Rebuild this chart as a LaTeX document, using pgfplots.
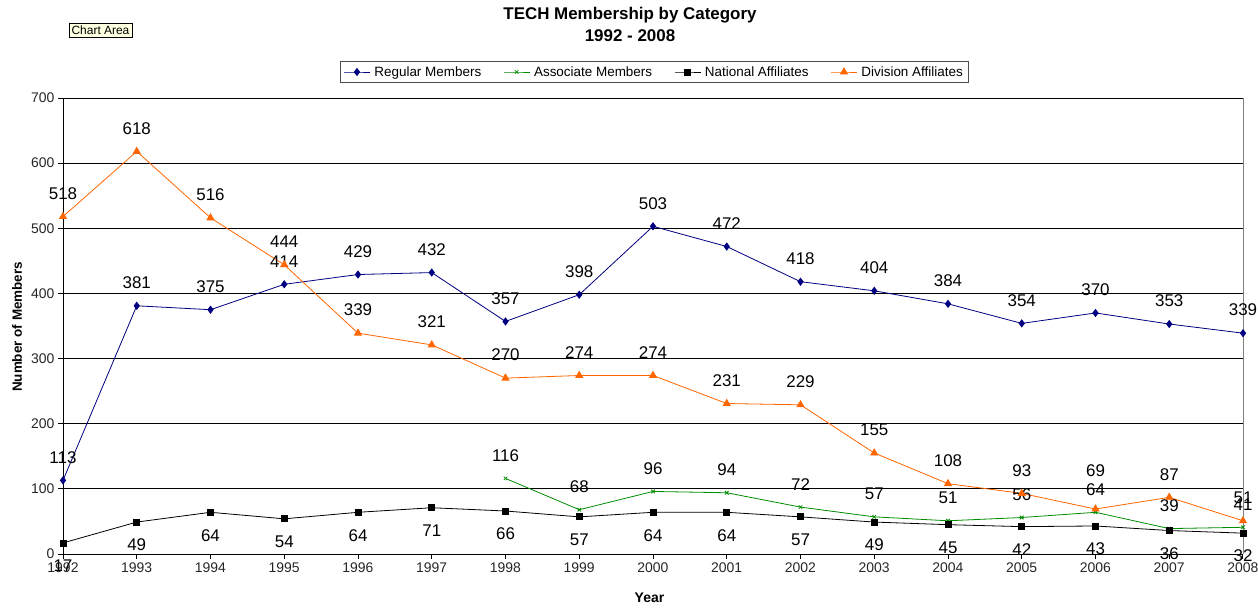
\documentclass[border=0pt]{standalone}
\usepackage{pgfplots}
\pgfplotsset{compat=1.18}
\usepackage{fontspec}
\setmainfont{Liberation Sans}
\definecolor{regc}{RGB}{0,0,128}
\definecolor{assc}{RGB}{0,140,0}
\definecolor{divc}{RGB}{255,102,0}
\definecolor{tipc}{RGB}{255,255,225}
\pgfplotsset{
  lbl/.style={nodes near coords,
    nodes near coords style={font=\fontsize{17}{19}\selectfont, text=black, anchor=center, yshift=#1}},
}
\begin{document}
\begin{tikzpicture}[x=1bp,y=1bp]
\useasboundingbox (0,0) rectangle (1258,611);
\begin{axis}[
  at={(63bp,57bp)}, anchor=south west, scale only axis,
  width=1180bp, height=456bp,
  xmin=1992, xmax=2008, ymin=0, ymax=700,
  xtick={1992,...,2008}, ytick={0,100,...,700},
  /pgf/number format/1000 sep={},
  /pgf/number format/assume math mode=true,
  tick label style={font=\fontsize{14}{16}\selectfont, text=black!85},
  axis x line*=bottom, axis y line*=left,
  tick align=outside, major tick length=5bp,
  ymajorgrids, major grid style={black, line width=0.8bp},
  axis line style={black, line width=0.8bp},
  tick style={black, line width=0.8bp},
  xlabel={Year}, ylabel={Number of Members},
  xlabel style={font=\bfseries\fontsize{14}{16}\selectfont, at={(axis description cs:0.497,-0.0965)}, anchor=center},
  ylabel style={font=\bfseries\fontsize{13.5}{15}\selectfont, at={(axis description cs:-0.039,0.498)}, anchor=center},
  legend style={at={(axis description cs:0.501,1.057)}, anchor=center, legend columns=4, draw=black!70,
    font=\fontsize{13.5}{15}\selectfont, inner sep=3bp,
    /tikz/every odd column/.append style={column sep=2bp},
    /tikz/every even column/.append style={column sep=20bp}},
  legend image code/.code={\draw[mark repeat=2,mark phase=2] plot coordinates {(0bp,0bp) (13bp,0bp) (26bp,0bp)};},
  clip=false,
]
\draw[gray, line width=0.8bp] (rel axis cs:1,0) -- (rel axis cs:1,1);
\addplot[regc, line width=0.8bp, mark=diamond*, mark size=3.5bp, lbl=23bp] coordinates {
(1992,113)(1993,381)(1994,375)(1995,414)(1996,429)(1997,432)(1998,357)(1999,398)(2000,503)
(2001,472)(2002,418)(2003,404)(2004,384)(2005,354)(2006,370)(2007,353)(2008,339)};
\addlegendentry{Regular Members}
\addplot[assc, line width=0.8bp, mark=x, mark size=2.5bp, lbl=23bp] coordinates {
(1998,116)(1999,68)(2000,96)(2001,94)(2002,72)(2003,57)(2004,51)(2005,56)(2006,64)(2007,39)(2008,41)};
\addlegendentry{Associate Members}
\addplot[black, line width=0.8bp, mark=square*, mark size=3bp, lbl=-23bp] coordinates {
(1992,17)(1993,49)(1994,64)(1995,54)(1996,64)(1997,71)(1998,66)(1999,57)(2000,64)
(2001,64)(2002,57)(2003,49)(2004,45)(2005,42)(2006,43)(2007,36)(2008,32)};
\addlegendentry{National Affiliates}
\addplot[divc, line width=0.8bp, mark=triangle*, mark size=4bp,
  visualization depends on={\thisrow{s} \as \lblshift},
  nodes near coords,
  nodes near coords style={font=\fontsize{17}{19}\selectfont, text=black, anchor=center, yshift=\lblshift bp}]
  table[x=x, y=y] {
x y s
1992 518 23
1993 618 23
1994 516 23
1995 444 23
1996 339 23
1997 321 23
1998 270 23
1999 274 23
2000 274 23
2001 231 23
2002 229 23
2003 155 23
2004 108 23
2005 93 23
2006 69 38
2007 87 23
2008 51 23
};
\addlegendentry{Division Affiliates}
\end{axis}
\node[font=\bfseries\fontsize{17}{20}\selectfont] at (630,596) {TECH Membership by Category};
\node[font=\bfseries\fontsize{17}{20}\selectfont] at (630,575) {1992 - 2008};
\node[draw=black, fill=tipc, font=\fontsize{12}{14}\selectfont, inner sep=2.5bp] at (100.5,581) {Chart Area};
\end{tikzpicture}
\end{document}
